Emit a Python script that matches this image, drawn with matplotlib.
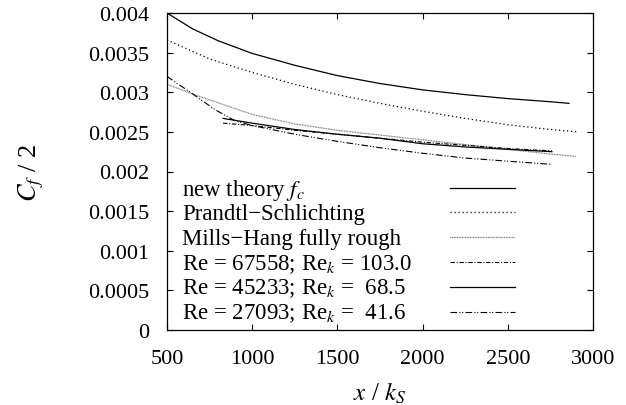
import matplotlib
matplotlib.use("Agg")
import matplotlib.pyplot as plt

plt.rcParams["font.family"] = ["Liberation Serif", "DejaVu Serif"]
plt.rcParams["mathtext.fontset"] = "stix"

# curves (values in units of 1e-3 for C_f/2)
x_theory = [500, 650, 800, 1000, 1250, 1500, 1750, 2000, 2250, 2500, 2750, 2859]
cf_theory = [4.00, 3.80, 3.65, 3.49, 3.34, 3.21, 3.11, 3.03, 2.97, 2.92, 2.88, 2.86]

x_prandtl = [500, 750, 1000, 1250, 1500, 1750, 2000, 2250, 2500, 2750, 2906]
cf_prandtl = [3.66, 3.42, 3.25, 3.10, 2.97, 2.86, 2.76, 2.67, 2.59, 2.53, 2.50]

x_mills = [500, 700, 1000, 1250, 1500, 1750, 2000, 2250, 2500, 2750, 2900]
cf_mills = [3.10, 2.94, 2.72, 2.60, 2.52, 2.46, 2.40, 2.34, 2.28, 2.22, 2.19]

x_exp = [829, 1000, 1250, 1500, 1750, 2000, 2250, 2500, 2759]
cf_67558 = [2.61, 2.58, 2.52, 2.47, 2.42, 2.37, 2.33, 2.29, 2.26]
cf_45233 = [2.67, 2.61, 2.53, 2.47, 2.42, 2.35, 2.31, 2.28, 2.25]

x_27093 = [500, 650, 782, 900, 1000, 1250, 1500, 1750, 2000, 2250, 2500, 2759]
cf_27093 = [3.20, 2.98, 2.78, 2.64, 2.58, 2.47, 2.38, 2.30, 2.23, 2.17, 2.13, 2.09]

labels = [
    "new theory $f_c$",
    "Prandtl\u2212Schlichting",
    "Mills\u2212Hang fully rough",
    "Re = 67558; Re$_k$ = 103.0",
    "Re = 45233; Re$_k$ =  68.5",
    "Re = 27093; Re$_k$ =  41.6",
]

x_ticks = [500, 1000, 1500, 2000, 2500, 3000]
y_ticks = [0, 0.0005, 0.001, 0.0015, 0.002, 0.0025, 0.003, 0.0035, 0.004]
y_tick_labels = ["0", "0.0005", "0.001", "0.0015", "0.002", "0.0025", "0.003", "0.0035", "0.004"]


def scaled(vals):
    return [v * 1e-3 for v in vals]


styles = [
    dict(color="black", linestyle="-", lw=0.9),
    dict(color="black", linestyle=(0, (1.0, 2.2)), lw=0.9),
    dict(color="#6a6a6a", linestyle=(0, (0.7, 0.6)), lw=0.9),
    dict(color="black", linestyle=(0, (4, 1.5, 1, 1.5)), lw=0.8),
    dict(color="black", linestyle="-", lw=0.9),
    dict(color="black", linestyle=(0, (6, 2, 1, 1.5, 1, 2)), lw=0.8),
]

series = [
    (x_theory, cf_theory),
    (x_prandtl, cf_prandtl),
    (x_mills, cf_mills),
    (x_exp, cf_67558),
    (x_exp, cf_45233),
    (x_27093, cf_27093),
]

fig = plt.figure(figsize=(6.26, 4.06), dpi=100)
fig.subplots_adjust(left=167 / 626, right=593 / 626, top=1 - 14 / 406, bottom=1 - 331 / 406)
ax = fig.add_subplot(111)

for (xs, ys), st in zip(series, styles):
    ax.plot(xs, scaled(ys), **st)

ax.set_xlim(500, 3000)
ax.set_ylim(0, 0.004)
ax.set_xticks(x_ticks)
ax.set_xticklabels([str(t) for t in x_ticks])
ax.set_yticks(y_ticks)
ax.set_yticklabels(y_tick_labels)
ax.tick_params(direction="in", top=True, right=True, length=4, width=0.8,
               labelsize=16)
ax.tick_params(axis="x", pad=14)
ax.tick_params(axis="y", pad=13)
for sp in ax.spines.values():
    sp.set_linewidth(0.9)

ax.set_xlabel("$x$ / $k_S$", fontsize=18, labelpad=8)
ax.set_ylabel("$C_f$ / 2", fontsize=19, labelpad=30)

# key drawn inside the box, gnuplot style: text on the left, sample on the right
row_y = [0.447, 0.371, 0.292, 0.213, 0.137, 0.058]
for lab, yy, st in zip(labels, row_y, styles):
    ax.text(0.035, yy - 0.021, lab, transform=ax.transAxes, fontsize=16.5,
            ha="left", va="baseline")
    ax.plot([0.664, 0.817], [yy, yy], transform=ax.transAxes, **st)

fig.savefig("out.png", dpi=100)
